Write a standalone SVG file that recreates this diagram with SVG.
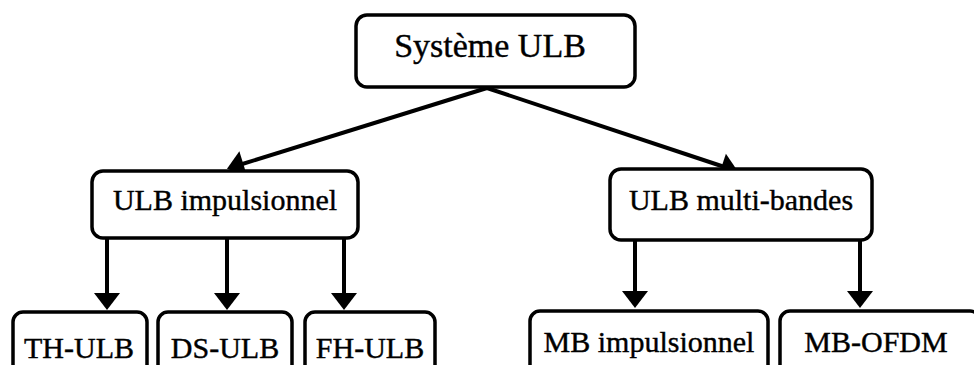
<svg xmlns="http://www.w3.org/2000/svg" width="974" height="365" viewBox="0 0 974 365">
<style>
.box{fill:#fff;stroke:#000;stroke-width:3.5}
.lbl{font-family:"Liberation Serif","Times New Roman",serif;font-size:30px;fill:#000;stroke:#000;stroke-width:0.4;text-anchor:middle}
.con{stroke:#000;stroke-width:4;fill:none}
</style>
<defs>
<marker id="ah" markerUnits="userSpaceOnUse" markerWidth="20" markerHeight="28" refX="6" refY="13" orient="auto" overflow="visible">
<path d="M0,0 L17,13 L0,26 z" fill="#000"/>
</marker>
</defs>
<rect width="974" height="365" fill="#fff"/>
<g id="connectors">
<line class="con" x1="487" y1="88" x2="237.5" y2="165.5" marker-end="url(#ah)"/>
<line class="con" x1="487" y1="88" x2="727.5" y2="168" marker-end="url(#ah)"/>
<line class="con" x1="107" y1="238" x2="107" y2="299" marker-end="url(#ah)"/>
<line class="con" x1="227" y1="238" x2="227" y2="299" marker-end="url(#ah)"/>
<line class="con" x1="344" y1="238" x2="344" y2="299" marker-end="url(#ah)"/>
<line class="con" x1="635" y1="240" x2="635" y2="297" marker-end="url(#ah)"/>
<line class="con" x1="860" y1="240" x2="860" y2="297" marker-end="url(#ah)"/>
</g>
<g id="systeme-ulb">
<rect class="box" x="356" y="15" width="279" height="72" rx="11"/>
<text class="lbl" x="490" y="57" style="font-size:34px">Système ULB</text>
</g>
<g id="ulb-impulsionnel">
<rect class="box" x="92" y="171" width="266" height="67" rx="11"/>
<text class="lbl" x="225" y="210">ULB impulsionnel</text>
</g>
<g id="ulb-multi-bandes">
<rect class="box" x="610" y="169" width="262" height="71" rx="11"/>
<text class="lbl" x="741" y="210">ULB multi-bandes</text>
</g>
<g id="th-ulb">
<rect class="box" x="13" y="312" width="134" height="70" rx="10"/>
<text class="lbl" x="79" y="358">TH-ULB</text>
</g>
<g id="ds-ulb">
<rect class="box" x="158" y="312" width="134" height="70" rx="10"/>
<text class="lbl" x="225" y="358">DS-ULB</text>
</g>
<g id="fh-ulb">
<rect class="box" x="305" y="312" width="130" height="70" rx="10"/>
<text class="lbl" x="370" y="358">FH-ULB</text>
</g>
<g id="mb-impulsionnel">
<rect class="box" x="530" y="311" width="238" height="70" rx="10"/>
<text class="lbl" x="649" y="352">MB impulsionnel</text>
</g>
<g id="mb-ofdm">
<rect class="box" x="780" y="311" width="200" height="70" rx="10"/>
<text class="lbl" x="876" y="352">MB-OFDM</text>
</g>
</svg>
